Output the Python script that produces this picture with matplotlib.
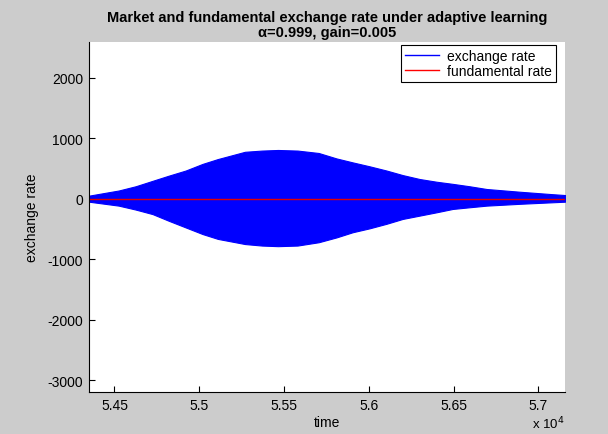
import numpy as np
import matplotlib
matplotlib.use("Agg")
import matplotlib.pyplot as plt
from matplotlib.ticker import FuncFormatter
from matplotlib.lines import Line2D

#-------------- Data --------------
# time points where the oscillation envelope was read
times = [54350, 54525, 54625, 54725, 54820, 54920, 55020, 55110, 55270,
         55370, 55465, 55580, 55705, 55810, 55905, 56005, 56105, 56200,
         56300, 56400, 56495, 56595, 56695, 56890, 57080, 57158]
# upper and lower swing of the exchange rate
upper = [55, 140, 210, 300, 385, 470, 580, 660, 780,
         800, 810, 800, 760, 670, 605, 540, 470, 395,
         330, 285, 250, 210, 165, 120, 80, 65]
lower = [-45, -110, -175, -250, -360, -470, -580, -660, -745,
         -770, -780, -770, -715, -635, -550, -485, -410, -330,
         -275, -220, -165, -137, -110, -80, -55, -45]
# fundamental rate
fund_t = [54350, 57158]
fund_rate = [0, 0]

x_ticks = [54500, 55000, 55500, 56000, 56500, 57000]
y_ticks = [-3000, -2000, -1000, 0, 1000, 2000]
#---------------------------------------------------------

plt.rcParams['font.family'] = ['Liberation Sans', 'DejaVu Sans']
plt.rcParams['axes.unicode_minus'] = False

fig = plt.figure(figsize=(6.08, 4.35), dpi=100, facecolor='#cccccc')
ax = fig.add_axes([0.1464, 0.0966, 0.783, 0.8046])

ax.fill_between(times, lower, upper, color='#0000ff', linewidth=0.8, edgecolor='#0000ff')
ax.plot(fund_t, fund_rate, color='#e00000', linewidth=1.0)

ax.set_xlim(54350, 57158)
ax.set_ylim(-3190, 2595)
ax.set_xticks(x_ticks)
ax.set_yticks(y_ticks)
ax.xaxis.set_major_formatter(FuncFormatter(lambda v, p: '%g' % (v / 1e4)))
ax.tick_params(direction='in', length=4, width=0.8, labelsize=10, pad=4.3)
ax.spines['top'].set_visible(False)
ax.spines['right'].set_visible(False)

ax.set_xlabel('time', fontsize=10, labelpad=2)
ax.set_ylabel('exchange rate', fontsize=10, labelpad=6)
ax.text(0.998, -0.112, r'x 10$^4$', transform=ax.transAxes, ha='right', va='bottom', fontsize=9.5)

ax.set_title('Market and fundamental exchange rate under adaptive learning\n'
             '\u03b1=0.999, gain=0.005', fontsize=10.5, fontweight='bold', pad=4,
             linespacing=1.1)

handles = [Line2D([0], [0], color='#0000ff', linewidth=1),
           Line2D([0], [0], color='#ff0000', linewidth=1)]
leg = ax.legend(handles, ['exchange rate', 'fundamental rate'], loc='upper right',
                bbox_to_anchor=(0.981, 0.991), borderaxespad=0, fontsize=10,
                fancybox=False, framealpha=1, edgecolor='black', handlelength=2.4,
                handletextpad=0.6, labelspacing=0.05, borderpad=0.3)
leg.get_frame().set_linewidth(0.8)

fig.savefig('out.png', dpi=100, facecolor=fig.get_facecolor())
